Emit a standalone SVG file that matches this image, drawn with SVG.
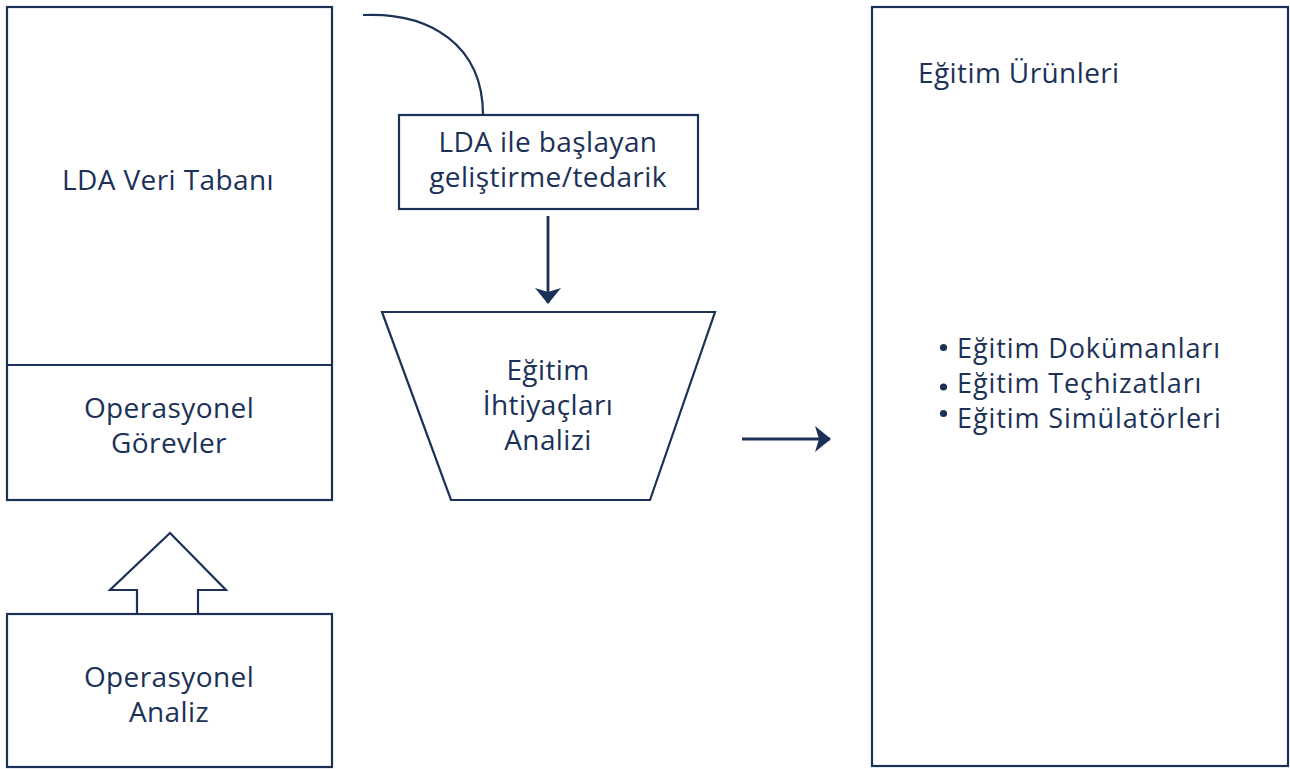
<svg xmlns="http://www.w3.org/2000/svg" width="1290" height="769" viewBox="0 0 1290 769">
  <style>
    .box { fill: #ffffff; stroke: #1c3157; stroke-width: 2.2; }
    .line { fill: none; stroke: #1c3157; stroke-width: 2.2; }
    .arrow { fill: none; stroke: #1c3157; stroke-width: 2.8; }
    .lbl { font-family: "Open Sans", "Liberation Sans", sans-serif; font-size: 28px; letter-spacing: 0.4px; fill: #1c3157; }
    .list { font-size: 27px; letter-spacing: 0.9px; }
    .mid { text-anchor: middle; }
  </style>
  <defs>
    <marker id="head" viewBox="0 0 16 26" refX="15" refY="13" markerWidth="16" markerHeight="26" markerUnits="userSpaceOnUse" orient="auto">
      <path d="M0,0 L16,13 L0,26 L4,13 Z" fill="#1c3157"/>
    </marker>
  </defs>

  <rect width="1290" height="769" fill="#ffffff"/>

  <!-- LDA database with operational tasks -->
  <g id="lda-veri-tabani">
    <rect class="box" x="7" y="7" width="325" height="493"/>
    <text class="lbl mid" x="168" y="190">LDA Veri Tabanı</text>
  </g>
  <g id="operasyonel-gorevler">
    <line class="line" x1="7" y1="365" x2="332" y2="365"/>
    <text class="lbl mid" x="169" y="418">Operasyonel<tspan x="169" dy="35">Görevler</tspan></text>
  </g>

  <!-- operational analysis -->
  <g id="operasyonel-analiz">
    <rect class="box" x="7" y="614" width="325" height="153"/>
    <text class="lbl mid" x="169" y="687">Operasyonel<tspan x="169" dy="35">Analiz</tspan></text>
  </g>

  <!-- development / procurement starting with LDA -->
  <g id="lda-gelistirme">
    <rect class="box" x="399" y="115" width="299" height="94"/>
    <text class="lbl mid" x="548" y="152">LDA ile başlayan<tspan x="548" dy="35">geliştirme/tedarik</tspan></text>
  </g>

  <!-- training needs analysis -->
  <g id="egitim-ihtiyaclari">
    <polygon class="box" points="382,312 715,312 650,500 451,500"/>
    <text class="lbl mid" x="548" y="380">Eğitim<tspan x="548" dy="35">İhtiyaçları</tspan><tspan x="548" dy="35">Analizi</tspan></text>
  </g>

  <!-- training products -->
  <g id="egitim-urunleri">
    <rect class="box" x="872" y="7" width="416" height="759"/>
    <text class="lbl" x="918" y="83">Eğitim Ürünleri</text>
    <circle cx="943.5" cy="347.5" r="3.6" fill="#1c3157"/>
    <circle cx="943.5" cy="387" r="3.6" fill="#1c3157"/>
    <circle cx="943.5" cy="413.5" r="3.6" fill="#1c3157"/>
    <text class="lbl list" x="957" y="358">Eğitim Dokümanları<tspan x="957" dy="35">Eğitim Teçhizatları</tspan><tspan x="957" dy="35">Eğitim Simülatörleri</tspan></text>
  </g>

  <!-- connectors -->
  <g id="connectors">
    <path class="line" d="M363,15 C430,12 483,45 483,115"/>
    <line class="arrow" x1="548" y1="216" x2="548" y2="303" marker-end="url(#head)"/>
    <line class="arrow" x1="742" y1="439" x2="830" y2="439" marker-end="url(#head)"/>
    <polygon class="box" points="170,533 226,590 198,590 198,614 137,614 137,590 110,590"/>
  </g>
</svg>
